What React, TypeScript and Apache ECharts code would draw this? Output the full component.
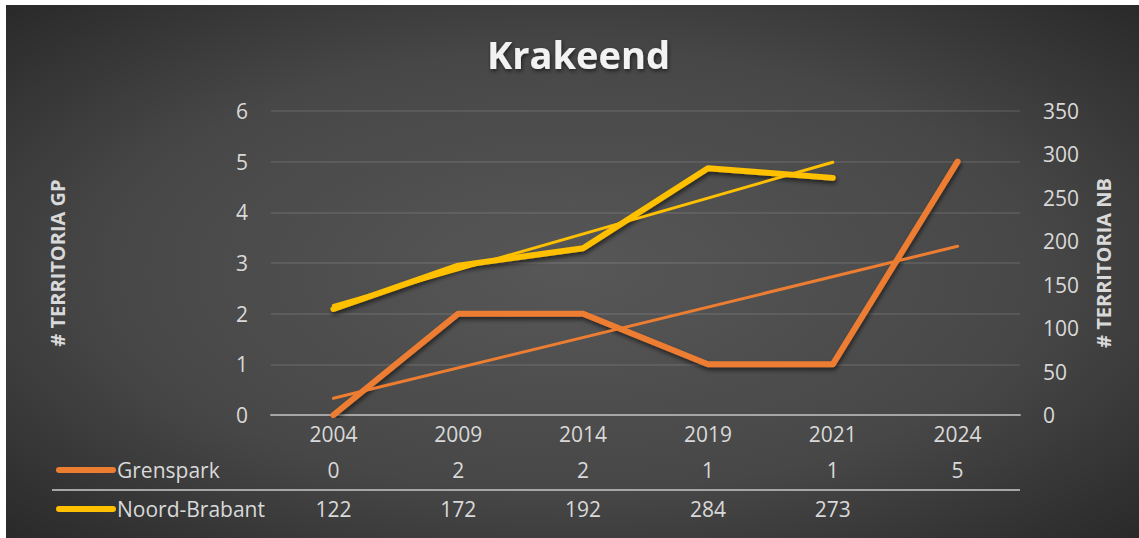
import React, { useEffect, useRef } from "react";
import * as echarts from "echarts";

const years = ["2004", "2009", "2014", "2019", "2021", "2024"];
const grenspark = [0, 2, 2, 1, 1, 5];
const noordBrabant: (number | null)[] = [122, 172, 192, 284, 273, null];
// linear trend line end points
const grensparkTrend: (number | null)[] = [0.33, null, null, null, null, 3.33];
const noordBrabantTrend: (number | null)[] = [126, null, null, null, 291, null];
const leftTicks = { min: 0, max: 6, interval: 1 };
const rightTicks = { min: 0, max: 350, interval: 50 };

const ORANGE = "#ED7D31";
const YELLOW = "#FFC000";
const TXT = "#d9d9d9";
const FONT = "'Open Sans', 'DejaVu Sans', sans-serif";
const FS = 21;

export default function App() {
  const ref = useRef<HTMLDivElement>(null);
  useEffect(() => {
    if (!ref.current) return;
    const chart = echarts.init(ref.current, null, { renderer: "svg" });
    const shadow = {
      shadowColor: "rgba(0,0,0,0.55)",
      shadowBlur: 4,
      shadowOffsetX: 1,
      shadowOffsetY: 3,
    };
    const tableAxis = (offset: number, vals: (number | null)[]) => ({
      type: "category",
      data: years,
      position: "bottom",
      offset,
      gridIndex: 0,
      axisLine: { show: false },
      axisTick: { show: false },
      splitLine: { show: false },
      axisLabel: {
        color: TXT,
        fontSize: FS,
        fontFamily: FONT,
        margin: 19,
        verticalAlign: "middle",
        interval: 0,
        formatter: (_v: string, i: number) => (vals[i] == null ? "" : String(vals[i])),
      },
    });
    chart.setOption({
      animation: false,
      backgroundColor: {
        type: "radial",
        x: 0.5,
        y: 0.5,
        r: 0.75,
        colorStops: [
          { offset: 0, color: "#575757" },
          { offset: 0.55, color: "#474747" },
          { offset: 1, color: "#252525" },
        ],
      },
      title: {
        text: "Krakeend",
        left: 476,
        top: 25,
        textStyle: {
          color: "#f2f2f2",
          fontSize: 38,
          fontWeight: "bold",
          fontFamily: FONT,
          textShadowColor: "rgba(0,0,0,0.6)",
          textShadowBlur: 4,
          textShadowOffsetX: 1,
          textShadowOffsetY: 2,
        },
      },
      grid: { left: 265, right: 119, top: 106, bottom: 123, containLabel: false },
      xAxis: [
        {
          type: "category",
          data: years,
          boundaryGap: true,
          axisLine: { show: true, lineStyle: { color: "#a6a6a6", width: 2 } },
          axisTick: { show: false },
          axisLabel: {
            color: TXT,
            fontSize: FS,
            fontFamily: FONT,
            margin: 19,
            verticalAlign: "middle",
            interval: 0,
          },
        },
        tableAxis(36, grenspark),
        tableAxis(75, noordBrabant),
      ],
      yAxis: [
        {
          type: "value",
          ...leftTicks,
          position: "left",
          axisLine: { show: false },
          axisTick: { show: false },
          splitLine: { show: true, lineStyle: { color: "rgba(255,255,255,0.12)", width: 1.5 } },
          axisLabel: { color: TXT, fontSize: FS, fontFamily: FONT, margin: 23 },
        },
        {
          type: "value",
          ...rightTicks,
          position: "right",
          axisLine: { show: false },
          axisTick: { show: false },
          splitLine: { show: false },
          axisLabel: { color: TXT, fontSize: FS, fontFamily: FONT, margin: 23 },
        },
      ],
      graphic: [
        {
          type: "text",
          x: 51,
          y: 258,
          rotation: Math.PI / 2,
          style: {
            text: "# TERRITORIA GP",
            fill: TXT,
            font: `bold 20px ${FONT}`,
            align: "center",
            verticalAlign: "middle",
          },
        },
        {
          type: "text",
          x: 1097,
          y: 258,
          rotation: Math.PI / 2,
          style: {
            text: "# TERRITORIA NB",
            fill: TXT,
            font: `bold 20px ${FONT}`,
            align: "center",
            verticalAlign: "middle",
          },
        },
        {
          type: "line",
          shape: { x1: 46, y1: 485, x2: 1014, y2: 485 },
          style: { stroke: "#a6a6a6", lineWidth: 2 },
        },
        {
          type: "line",
          shape: { x1: 53, y1: 465, x2: 107, y2: 465 },
          style: { stroke: ORANGE, lineWidth: 6, lineCap: "round" },
        },
        {
          type: "line",
          shape: { x1: 53, y1: 504, x2: 107, y2: 504 },
          style: { stroke: YELLOW, lineWidth: 6, lineCap: "round" },
        },
        {
          type: "text",
          x: 111,
          y: 465,
          style: { text: "Grenspark", fill: TXT, font: `${FS}px ${FONT}`, align: "left", verticalAlign: "middle" },
        },
        {
          type: "text",
          x: 111,
          y: 504,
          style: { text: "Noord-Brabant", fill: TXT, font: `${FS}px ${FONT}`, align: "left", verticalAlign: "middle" },
        },
      ],
      series: [
        {
          name: "Grenspark trend",
          type: "line",
          data: grensparkTrend,
          yAxisIndex: 0,
          connectNulls: true,
          showSymbol: false,
          symbol: "none",
          lineStyle: { color: ORANGE, width: 3, cap: "round" },
          z: 3,
        },
        {
          name: "Grenspark",
          type: "line",
          data: grenspark,
          yAxisIndex: 0,
          showSymbol: false,
          symbol: "none",
          lineStyle: { color: ORANGE, width: 6, cap: "round", join: "round", ...shadow },
          z: 2,
        },
        {
          name: "Noord-Brabant",
          type: "line",
          data: noordBrabant,
          yAxisIndex: 1,
          showSymbol: false,
          symbol: "none",
          lineStyle: { color: YELLOW, width: 6, cap: "round", join: "round", ...shadow },
          z: 2,
        },
        {
          name: "Noord-Brabant trend",
          type: "line",
          data: noordBrabantTrend,
          yAxisIndex: 1,
          connectNulls: true,
          showSymbol: false,
          symbol: "none",
          lineStyle: { color: YELLOW, width: 3, cap: "round" },
          z: 3,
        },
      ],
    });
    return () => chart.dispose();
  }, []);
  return (
    <div style={{ position: "fixed", left: 0, top: 0, width: 1139, height: 538, background: "#ffffff" }}>
      <div ref={ref} style={{ position: "absolute", left: 6, top: 5, width: 1133, height: 533 }} />
    </div>
  );
}
